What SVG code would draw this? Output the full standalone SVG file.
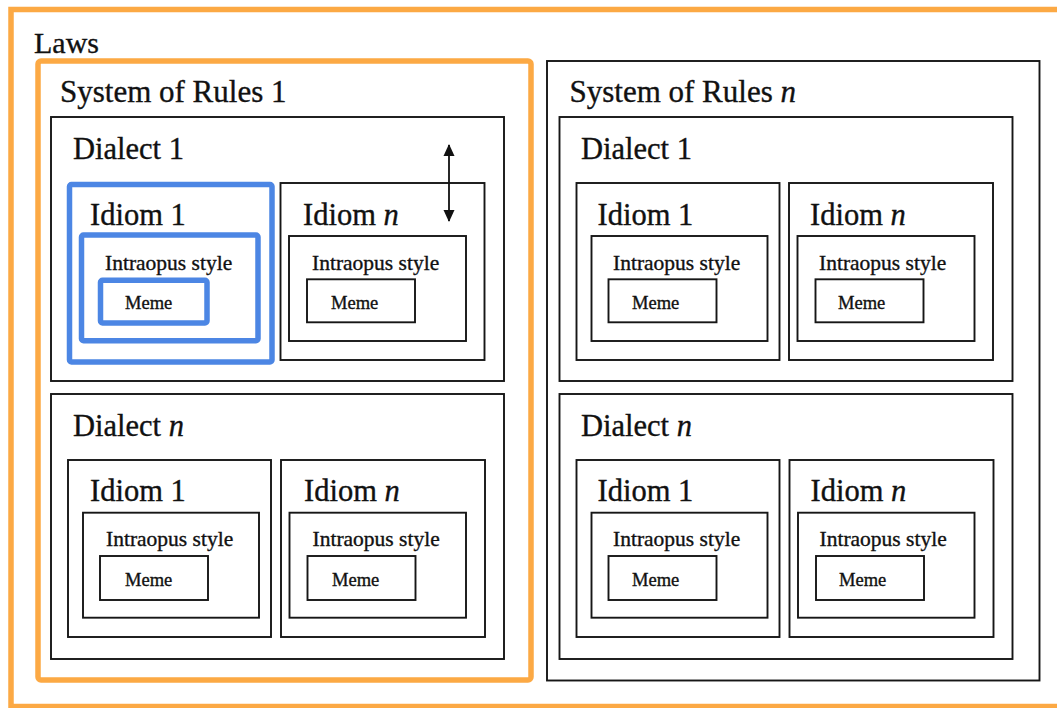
<svg xmlns="http://www.w3.org/2000/svg" width="1057" height="708" viewBox="0 0 1057 708">
  <style>
    .box { fill: none; stroke: #161616; stroke-width: 1.9; }
    .org { fill: none; stroke: #FCA944; stroke-width: 5.5; }
    .blu { fill: none; stroke: #4C86E4; stroke-width: 5.5; }
    .t { font-family: "Liberation Serif", "Times New Roman", serif; fill: #111; stroke: #111; stroke-width: 0.35; }
    .big { font-size: 30.5px; }
    .sys { font-size: 31px; }
    .mid { font-size: 21.5px; }
    .sm { font-size: 18.5px; }
    .it { font-style: italic; }
  </style>
  <defs>
    <marker id="ah" viewBox="0 0 12 12" refX="11" refY="6" markerWidth="12" markerHeight="12" markerUnits="userSpaceOnUse" orient="auto-start-reverse">
      <path d="M0,0.5 L12,6 L0,11.5 Z" fill="#111"/>
    </marker>
  </defs>
  <rect width="1057" height="708" fill="#fff"/>

  <g id="laws">
    <rect class="org" x="11" y="9.5" width="1060" height="697"/>
    <text class="t" x="34" y="52.5" font-size="30">Laws</text>
  </g>

  <g id="system-of-rules-1">
    <rect class="org" x="38" y="61" width="493" height="619" rx="3"/>
    <text class="t sys" x="60" y="101.7">System of Rules 1</text>
  </g>

  <g id="s1-dialect-1">
    <rect class="box" x="51" y="117" width="453" height="264"/>
    <text class="t big" x="73" y="158.7">Dialect 1</text>
  </g>
  <g id="s1-d1-idiom-1">
    <rect class="blu" x="69.5" y="184.5" width="202.5" height="177.5" rx="2"/>
    <text class="t big" x="90" y="225.3">Idiom 1</text>
  </g>
  <g id="s1-d1-i1-intraopus">
    <rect class="blu" x="81.5" y="235" width="176.5" height="105.7" rx="2"/>
    <text class="t mid" x="105" y="270">Intraopus style</text>
  </g>
  <g id="s1-d1-i1-meme">
    <rect class="blu" x="100.5" y="280.3" width="106.5" height="42.7" rx="2"/>
    <text class="t sm" x="125" y="309.3">Meme</text>
  </g>
  <g id="s1-d1-idiom-n">
    <rect class="box" x="280.5" y="183" width="204" height="177"/>
    <text class="t big" x="303" y="225.3">Idiom <tspan class="it">n</tspan></text>
  </g>
  <g id="s1-d1-in-intraopus">
    <rect class="box" x="289" y="236" width="177" height="105"/>
    <text class="t mid" x="312" y="269.5">Intraopus style</text>
  </g>
  <g id="s1-d1-in-meme">
    <rect class="box" x="307" y="279.3" width="108" height="43"/>
    <text class="t sm" x="331" y="309.3">Meme</text>
  </g>

  <g id="s1-dialect-n">
    <rect class="box" x="51" y="394" width="453" height="265"/>
    <text class="t big" x="73" y="435.7">Dialect <tspan class="it">n</tspan></text>
  </g>
  <g id="s1-dn-idiom-1">
    <rect class="box" x="68" y="460" width="203" height="177"/>
    <text class="t big" x="90" y="501">Idiom 1</text>
  </g>
  <g id="s1-dn-i1-intraopus">
    <rect class="box" x="83" y="512.7" width="176" height="105"/>
    <text class="t mid" x="106" y="546">Intraopus style</text>
  </g>
  <g id="s1-dn-i1-meme">
    <rect class="box" x="100" y="556" width="108" height="44"/>
    <text class="t sm" x="125" y="585.7">Meme</text>
  </g>
  <g id="s1-dn-idiom-n">
    <rect class="box" x="281" y="460" width="204" height="177"/>
    <text class="t big" x="304" y="501">Idiom <tspan class="it">n</tspan></text>
  </g>
  <g id="s1-dn-in-intraopus">
    <rect class="box" x="289.5" y="512.7" width="176.5" height="105"/>
    <text class="t mid" x="312.5" y="546">Intraopus style</text>
  </g>
  <g id="s1-dn-in-meme">
    <rect class="box" x="307.5" y="556" width="108" height="44"/>
    <text class="t sm" x="332" y="585.7">Meme</text>
  </g>

  <g id="system-of-rules-n">
    <rect class="box" x="547" y="61" width="492.5" height="619.5"/>
    <text class="t sys" x="569.5" y="101.7">System of Rules <tspan class="it">n</tspan></text>
  </g>

  <g id="sn-dialect-1">
    <rect class="box" x="559.5" y="117" width="453" height="264"/>
    <text class="t big" x="581" y="158.7">Dialect 1</text>
  </g>
  <g id="sn-d1-idiom-1">
    <rect class="box" x="576.5" y="183" width="203" height="177"/>
    <text class="t big" x="597.5" y="225.3">Idiom 1</text>
  </g>
  <g id="sn-d1-i1-intraopus">
    <rect class="box" x="591.5" y="236" width="176" height="105"/>
    <text class="t mid" x="613" y="269.5">Intraopus style</text>
  </g>
  <g id="sn-d1-i1-meme">
    <rect class="box" x="608.5" y="279.3" width="108" height="43"/>
    <text class="t sm" x="632" y="309.3">Meme</text>
  </g>
  <g id="sn-d1-idiom-n">
    <rect class="box" x="789" y="183" width="204" height="177"/>
    <text class="t big" x="810" y="225.3">Idiom <tspan class="it">n</tspan></text>
  </g>
  <g id="sn-d1-in-intraopus">
    <rect class="box" x="797.5" y="236" width="177" height="105"/>
    <text class="t mid" x="819" y="269.5">Intraopus style</text>
  </g>
  <g id="sn-d1-in-meme">
    <rect class="box" x="815.5" y="279.3" width="108" height="43"/>
    <text class="t sm" x="838" y="309.3">Meme</text>
  </g>

  <g id="sn-dialect-n">
    <rect class="box" x="559.5" y="394" width="453" height="265"/>
    <text class="t big" x="581" y="435.7">Dialect <tspan class="it">n</tspan></text>
  </g>
  <g id="sn-dn-idiom-1">
    <rect class="box" x="576.5" y="460" width="203" height="177"/>
    <text class="t big" x="597.5" y="501">Idiom 1</text>
  </g>
  <g id="sn-dn-i1-intraopus">
    <rect class="box" x="591.5" y="512.7" width="176" height="105"/>
    <text class="t mid" x="613" y="546">Intraopus style</text>
  </g>
  <g id="sn-dn-i1-meme">
    <rect class="box" x="608.5" y="556" width="108" height="44"/>
    <text class="t sm" x="632" y="585.7">Meme</text>
  </g>
  <g id="sn-dn-idiom-n">
    <rect class="box" x="789.5" y="460" width="204" height="177"/>
    <text class="t big" x="810.5" y="501">Idiom <tspan class="it">n</tspan></text>
  </g>
  <g id="sn-dn-in-intraopus">
    <rect class="box" x="798" y="512.7" width="176.5" height="105"/>
    <text class="t mid" x="819.5" y="546">Intraopus style</text>
  </g>
  <g id="sn-dn-in-meme">
    <rect class="box" x="816" y="556" width="108" height="44"/>
    <text class="t sm" x="839" y="585.7">Meme</text>
  </g>

  <g id="connectors">
    <line x1="449" y1="145" x2="449" y2="221" stroke="#111" stroke-width="1.8" marker-start="url(#ah)" marker-end="url(#ah)"/>
  </g>
</svg>
